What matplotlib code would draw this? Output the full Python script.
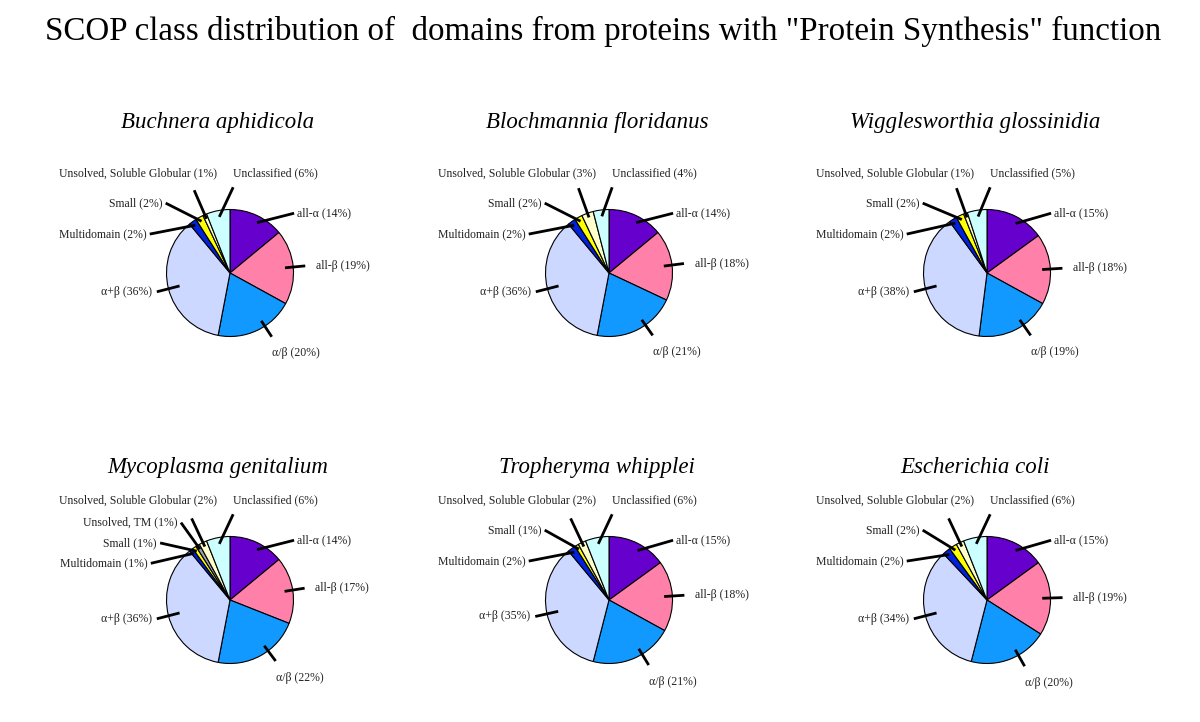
import matplotlib.pyplot as plt
import numpy as np

plt.rcParams['font.family'] = ['Liberation Serif', 'DejaVu Serif']

species = ['Buchnera aphidicola', 'Blochmannia floridanus', 'Wigglesworthia glossinidia',
           'Mycoplasma genitalium', 'Tropheryma whipplei', 'Escherichia coli']
classes = ['all-α', 'all-β', 'α/β', 'α+β', 'Multidomain', 'Small', 'Unsolved, TM',
           'Unsolved, Soluble Globular', 'Unclassified']
# percentages, same order as classes (0 = class not present)
buchnera = [14, 19, 20, 36, 2, 2, 0, 1, 6]
blochmannia = [14, 18, 21, 36, 2, 2, 0, 3, 4]
wigglesworthia = [15, 18, 19, 38, 2, 2, 0, 1, 5]
mycoplasma = [14, 17, 22, 36, 1, 1, 1, 2, 6]
tropheryma = [15, 18, 21, 35, 2, 1, 0, 2, 6]
ecoli = [15, 19, 20, 34, 2, 2, 0, 2, 6]
all_values = [buchnera, blochmannia, wigglesworthia, mycoplasma, tropheryma, ecoli]

colors = {'all-α': '#6600CC', 'all-β': '#FF80A8', 'α/β': '#1199FF', 'α+β': '#CCD8FF',
          'Multidomain': '#0022DD', 'Small': '#FFFF00', 'Unsolved, TM': '#A0A0B4',
          'Unsolved, Soluble Globular': '#FFFFCC', 'Unclassified': '#CCFFFF'}

W, H = 1200, 722
R = 63.5  # pie radius in pixels
centers = [(230, 273), (609, 273), (987, 273), (230, 600), (609, 600), (987, 600)]
title_base = [128, 128, 128, 473, 473, 473]
# left-hand stacked labels for the thin slices: (angle, radius)
left_slots = {2: [(155, 1.45), (134, 1.53)], 3: [(156, 1.42), (142, 1.46), (124, 1.47)]}


def pol(ang, rad):
    a = np.deg2rad(ang)
    return rad * np.cos(a), rad * np.sin(a)


fig = plt.figure(figsize=(12, 7.22), dpi=100)
fig.text(603 / W, 1 - 40 / H, 'SCOP class distribution of  domains from proteins with "Protein Synthesis" function',
         ha='center', va='baseline', fontsize=23.8)

span = 2.2
for sp, vals, (cx, cy), tb in zip(species, all_values, centers, title_base):
    side = span * R
    ax = fig.add_axes([(cx - side) / W, (H - cy - side) / H, 2 * side / W, 2 * side / H])

    names = [c for c, v in zip(classes, vals) if v > 0]
    sizes = [v for v in vals if v > 0]
    wedges, _ = ax.pie(sizes, colors=[colors[n] for n in names], startangle=90, counterclock=False,
                       radius=1, wedgeprops=dict(edgecolor='black', linewidth=0.8))
    ax.set_xlim(-span, span)
    ax.set_ylim(-span, span)
    ax.set_aspect('equal')
    ax.axis('off')

    stack = [n for n in names if n in ('Multidomain', 'Small', 'Unsolved, TM')]
    slots = left_slots[len(stack)]
    for w, n, v in zip(wedges, names, sizes):
        mid = (w.theta1 + w.theta2) / 2
        label = '%s (%d%%)' % (n, v)
        ha = 'left'
        if n == 'all-α':
            p0 = pol(mid - 3, 0.9)
            p1 = pol(43, 1.38)
            t = (p1[0] + 0.05, p1[1])
        elif n == 'all-β':
            p0 = pol(mid, 0.87)
            p1 = pol(mid, 1.19)
            t = (p1[0] + 0.17, p1[1])
        elif n == 'α/β':
            p0 = pol(mid + 8, 0.9)
            p1 = pol(mid + 8, 1.2)
            t = (p1[0], p1[1] - 0.26)
        elif n == 'α+β':
            p0 = pol(mid, 0.82)
            p1 = pol(mid, 1.19)
            t = (p1[0] - 0.08, p1[1])
            ha = 'right'
        elif n in stack:
            ang, rad = slots[stack.index(n)]
            t = pol(ang, rad)
            p0 = pol(mid, 0.93)
            p1 = (t[0] + 0.05, t[1])
            ha = 'right'
        elif n == 'Unsolved, Soluble Globular':
            p0 = pol(mid, 0.93)
            p1 = pol(mid, 1.42)
            t = (-0.2, 1.57)
            ha = 'right'
        else:
            p0 = pol(mid, 0.9)
            p1 = (0.05, 1.35)
            t = (0.05, 1.57)
        ax.plot([p0[0], p1[0]], [p0[1], p1[1]], color='black', lw=2.0, solid_capstyle='butt', clip_on=False)
        ax.text(t[0], t[1], label, ha=ha, va='center', fontsize=8.5, color='#222222', clip_on=False)

    fig.text((cx - 12) / W, 1 - tb / H, sp, ha='center', va='baseline', fontsize=16.5, style='italic')

fig.savefig('out.png', dpi=100)
